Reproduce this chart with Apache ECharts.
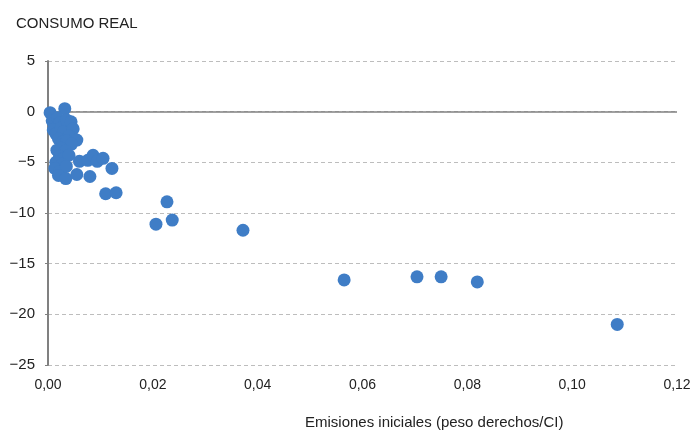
<!DOCTYPE html>
<html>
<head>
<meta charset="utf-8">
<script src="https://cdn.jsdelivr.net/npm/echarts@6/dist/echarts.min.js"></script>
<style>
html,body{margin:0;padding:0;background:#fff;}
#chart{width:695px;height:432px;}
</style>
</head>
<body>
<div id="chart"></div>
<script>
const titleText = 'CONSUMO REAL';
const xAxisTitle = 'Emisiones iniciales (peso derechos/CI)';
const xTicks = [0, 0.02, 0.04, 0.06, 0.08, 0.10, 0.12];
const yTicks = [-25, -20, -15, -10, -5, 0, 5];
const emisiones = [
  0.0004, 0.0032, 0.0008, 0.0012, 0.0018, 0.0022, 0.0010, 0.0015, 0.0025, 0.0030,
  0.0035, 0.0044, 0.0048, 0.0040, 0.0020, 0.0028, 0.0036, 0.0055, 0.0045, 0.0017,
  0.0025, 0.0033, 0.0022, 0.0030, 0.0040, 0.0015, 0.0027, 0.0013, 0.0022, 0.0035,
  0.0020, 0.0034, 0.0055, 0.0060, 0.0076, 0.0086, 0.0094, 0.0105, 0.0122, 0.0080,
  0.0110, 0.0130,
  0.0206, 0.0227, 0.0237, 0.0372, 0.0565, 0.0704, 0.0750, 0.0819, 0.1086
];
const consumo = [
  -0.1, 0.3, -0.9, -1.3, -0.6, -1.1, -1.8, -2.2, -1.6, -2.0,
  -0.8, -1.0, -1.7, -2.4, -2.7, -3.0, -2.9, -2.8, -3.2, -3.8,
  -3.6, -3.9, -4.4, -4.6, -4.3, -5.0, -5.2, -5.6, -5.9, -5.4,
  -6.3, -6.6, -6.2, -4.9, -4.8, -4.3, -4.9, -4.6, -5.6, -6.4,
  -8.1, -8.0,
  -11.1, -8.9, -10.7, -11.7, -16.6, -16.3, -16.3, -16.8, -21.0
];

const points = emisiones.map((x, i) => [x, consumo[i]]);
const font = "'Liberation Sans', Arial, sans-serif";

const chart = echarts.init(document.getElementById('chart'), null, {renderer: 'canvas'});
chart.setOption({
  animation: false,
  title: {
    text: titleText, left: 11, top: 11,
    textStyle: {fontFamily: font, fontSize: 15, fontWeight: 'normal', color: '#222'}
  },
  grid: {left: 48, right: 18, top: 61, bottom: 67, containLabel: false},
  xAxis: {
    type: 'value', min: xTicks[0], max: xTicks[xTicks.length - 1], interval: 0.02,
    axisLine: {show: false},
    axisTick: {show: false},
    splitLine: {show: false},
    axisLabel: {
      margin: 13, fontFamily: font, fontSize: 14, color: '#222',
      formatter: v => v.toFixed(2).replace('.', ',')
    }
  },
  yAxis: {
    type: 'value', min: yTicks[0], max: yTicks[yTicks.length - 1], interval: 5,
    axisLine: {show: true, lineStyle: {color: '#808080', width: 2}},
    axisTick: {show: true, length: 3, lineStyle: {color: '#808080'}},
    splitLine: {show: true, lineStyle: {color: '#bdbdbd', type: [4, 3], width: 1}},
    axisLabel: {
      margin: 13, fontFamily: font, fontSize: 15, color: '#222',
      formatter: v => String(v).replace('-', '\u2212')
    }
  },
  graphic: [{
    type: 'text', left: 305, top: 415,
    style: {text: xAxisTitle, font: "15px 'Liberation Sans', Arial, sans-serif", fill: '#222'}
  }],
  series: [{
    type: 'scatter',
    data: points,
    symbol: 'circle',
    symbolSize: 13,
    itemStyle: {color: '#3f7dc6', opacity: 1},
    markLine: {
      silent: true, symbol: 'none', label: {show: false},
      lineStyle: {color: '#808080', type: 'solid', width: 1.5},
      data: [{yAxis: 0}],
      z: 1
    },
    z: 3
  }]
});
</script>
</body>
</html>
